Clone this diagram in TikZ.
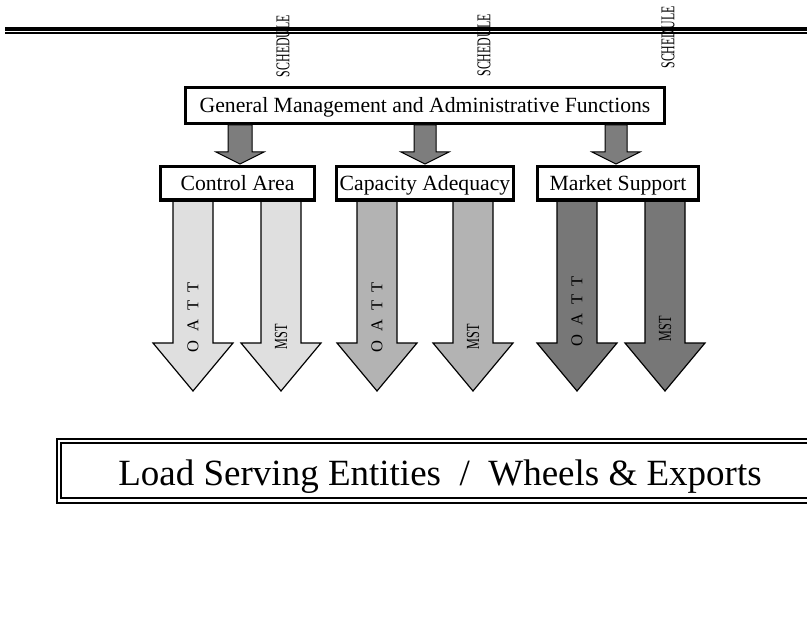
\documentclass[tikz,border=0pt]{standalone}
\usepackage{fontspec}
\setmainfont{Liberation Serif}
\usetikzlibrary{calc}
\definecolor{lightfill}{RGB}{223,223,223}
\definecolor{midfill}{RGB}{179,179,179}
\definecolor{darkfill}{RGB}{119,119,119}
\definecolor{smallfill}{RGB}{125,125,125}
\tikzset{
  boxlabel/.style={draw, line width=3pt, fill=white, inner sep=0pt, minimum height=33pt,
    text height=14.7pt, text depth=0pt, font=\fontsize{21.7}{24}\selectfont},
  smallarrow/.style={draw=black, line width=1pt, fill=smallfill, line join=miter},
  bigarrow/.style={draw=black, line width=1.2pt, line join=miter},
  schedlabel/.style={rotate=90, inner sep=0pt, font=\fontsize{19.5}{21}\selectfont},
  oattlabel/.style={rotate=90, inner sep=0pt, font=\fontsize{16.5}{18}\selectfont},
  mstlabel/.style={rotate=90, inner sep=0pt, font=\fontsize{18.5}{20}\selectfont},
}
\newcommand{\blockarrow}[6]{\draw[#1] let \p1=(#2), \p2=(#3) in
  (\x2-#4,\y1) -- (\x2+#4,\y1) -- (\x2+#4,\y2+#6) -- (\x2+#5,\y2+#6) -- (\x2,\y2)
  -- (\x2-#5,\y2+#6) -- (\x2-#4,\y2+#6) -- cycle;}
\newcommand{\oatt}{O\hspace{8.7pt}A\hspace{8.7pt}T\hspace{8.7pt}T}
\newcommand{\mst}{\scalebox{0.66}[1]{MST}}
\newcommand{\sched}{\scalebox{0.61}[1]{SCHEDULE}}
\begin{document}
\begin{tikzpicture}[x=1pt, y=-1pt]
\useasboundingbox (0,0) rectangle (807,623);
\clip (0,0) rectangle (807,623);
% top double rule
\draw[line width=4pt] (5,28.7) -- (807,28.7);
\draw[line width=2pt] (5,33.3) -- (807,33.3);
% schedule labels
\node[schedlabel] (s1) at (283,46) {\sched};
\node[schedlabel] (s2) at (484,45.5) {\sched};
\node[schedlabel] (s3) at (668,37.5) {\sched};
% boxes
\node[boxlabel, minimum width=479pt, minimum height=36pt] (gen) at (425,105.5)
  {General Management and Administrative Functions};
\coordinate (t1) at (240,164);
\coordinate (t2) at (425,164);
\coordinate (t3) at (616,164);
\blockarrow{smallarrow}{gen.south}{t1}{12pt}{24pt}{12pt}
\blockarrow{smallarrow}{gen.south}{t2}{11pt}{24pt}{12pt}
\blockarrow{smallarrow}{gen.south}{t3}{11pt}{24pt}{12pt}
\node[boxlabel, minimum width=154pt] (ctl) at (237.5,183) {Control Area};
\node[boxlabel, minimum width=177pt] (cap) at (425,183) {Capacity Adequacy};
\node[boxlabel, minimum width=161pt] (mkt) at (618,183) {Market Support};
% big arrows
\coordinate (b1) at (193,391);
\coordinate (b2) at (281,391);
\coordinate (b3) at (377,391);
\coordinate (b4) at (473,391);
\coordinate (b5) at (577,391);
\coordinate (b6) at (665,391);
\blockarrow{bigarrow, fill=lightfill}{ctl.south}{b1}{20pt}{40pt}{48pt}
\blockarrow{bigarrow, fill=lightfill}{ctl.south}{b2}{20pt}{40pt}{48pt}
\blockarrow{bigarrow, fill=midfill}{cap.south}{b3}{20pt}{40pt}{48pt}
\blockarrow{bigarrow, fill=midfill}{cap.south}{b4}{20pt}{40pt}{48pt}
\blockarrow{bigarrow, fill=darkfill}{mkt.south}{b5}{20pt}{40pt}{48pt}
\blockarrow{bigarrow, fill=darkfill}{mkt.south}{b6}{20pt}{40pt}{48pt}
\draw[line width=3pt] (ctl.south west) -- (ctl.south east);
\draw[line width=3pt] (cap.south west) -- (cap.south east);
\draw[line width=3pt] (mkt.south west) -- (mkt.south east);
\node[oattlabel] (o1) at (193,317) {\oatt};
\node[mstlabel] (m1) at (281,337) {\mst};
\node[oattlabel] (o2) at (377,317) {\oatt};
\node[mstlabel] (m2) at (473,337) {\mst};
\node[oattlabel] (o3) at (577,311) {\oatt};
\node[mstlabel] (m3) at (665,329) {\mst};
% bottom double box
\draw[line width=2pt, double=white, double distance=2.5pt] (59,441) rectangle (830,500.5);
\node[anchor=base, inner sep=0pt, font=\fontsize{37}{40}\selectfont] (lse) at (440,485)
  {Load Serving Entities\ \ /\ \ Wheels \& Exports};
\end{tikzpicture}
\end{document}
